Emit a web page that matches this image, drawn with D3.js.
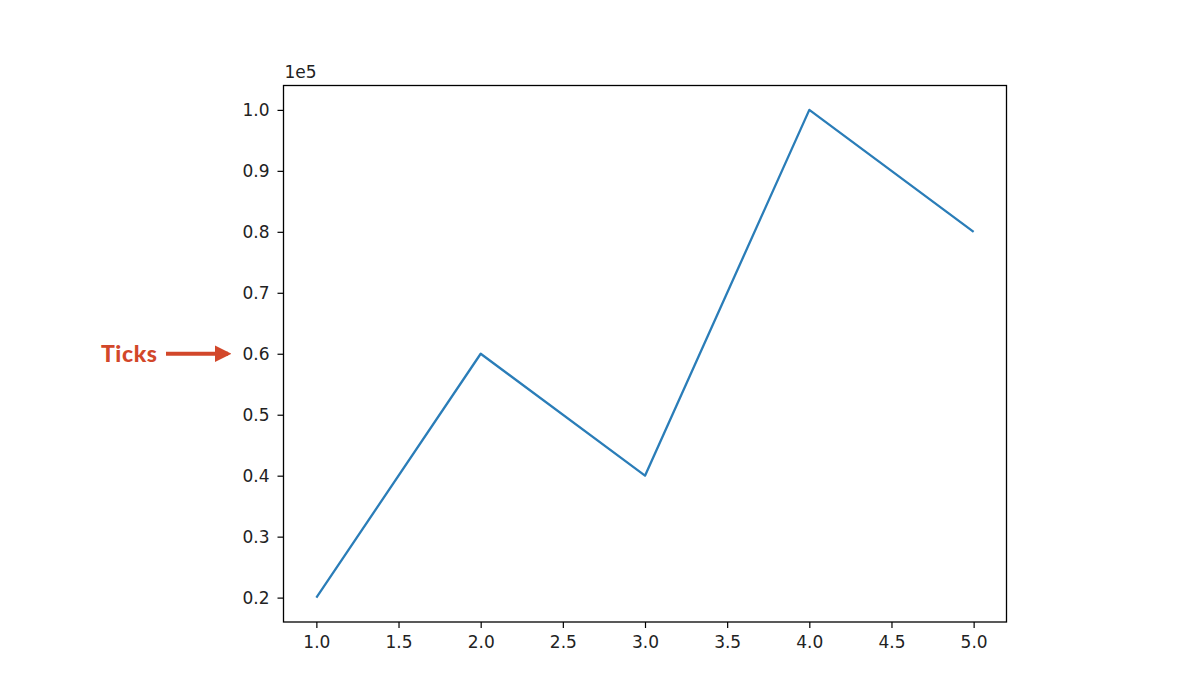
<!DOCTYPE html>
<meta charset="utf-8">
<style>
body { margin: 0; background: #fff; }
.note { font: 900 23px Lato, sans-serif; fill: #d2472a; }
</style>
<body>
<script src="https://cdn.jsdelivr.net/npm/d3@7"></script>
<script>

// data
var xVals = [1, 2, 3, 4, 5],
    yVals = [20000, 60000, 40000, 100000, 80000],
    xTicks = [1.0, 1.5, 2.0, 2.5, 3.0, 3.5, 4.0, 4.5, 5.0],
    yTicks = [0.2, 0.3, 0.4, 0.5, 0.6, 0.7, 0.8, 0.9, 1.0],
    offsetLabel = "1e5",
    noteText = "Ticks",
    noteTick = 0.6;

var W = 1200, H = 700,
    margin = {top: 85.5, right: 193.5, bottom: 78, left: 283.5},
    width = W - margin.left - margin.right,
    height = H - margin.top - margin.bottom;

var svg = d3.select("body").append("svg")
    .attr("width", W)
    .attr("height", H);

var g = svg.append("g")
    .attr("transform", "translate(" + margin.left + "," + margin.top + ")");

// matplotlib style 5% margins
var xScale = d3.scaleLinear().domain([0.8, 5.2]).range([0, width]),
    yScale = d3.scaleLinear().domain([0.16, 1.04]).range([height, 0]);

var xAxis = d3.axisBottom(xScale).tickValues(xTicks).tickFormat(d3.format(".1f")).tickSize(6).tickPadding(8);
var yAxis = d3.axisLeft(yScale).tickValues(yTicks).tickFormat(d3.format(".1f")).tickSize(6).tickPadding(8);

function styleAxis(s) {
  s.select(".domain").remove();
  s.attr("font-size", null).attr("font-family", null);
  s.selectAll("line").style("stroke", "#000").style("stroke-width", 1.2);
  s.selectAll("text")
    .style("font-family", "'DejaVu Sans', sans-serif")
    .style("font-size", "17px")
    .style("fill", "#222");
}

g.append("g")
    .attr("transform", "translate(0," + height + ")")
    .call(xAxis)
    .call(styleAxis);

g.append("g")
    .call(yAxis)
    .call(styleAxis);

// frame
g.append("rect")
    .attr("width", width)
    .attr("height", height)
    .style("fill", "none")
    .style("stroke", "#000")
    .style("stroke-width", 1.3);

// offset label
g.append("text")
    .attr("x", 1)
    .attr("y", -8)
    .style("font", "17px 'DejaVu Sans', sans-serif")
    .style("fill", "#222")
    .text(offsetLabel);

var line = d3.line()
    .x(function(d, i) { return xScale(xVals[i]); })
    .y(function(d) { return yScale(d / 1e5); });

g.append("path")
    .datum(yVals)
    .attr("d", line)
    .style("fill", "none")
    .style("stroke", "#2a7db8")
    .style("stroke-width", 2.3)
    .style("stroke-linejoin", "round");

// annotation
var ny = margin.top + yScale(noteTick);
svg.append("defs").append("marker")
    .attr("id", "arr")
    .attr("viewBox", "0 0 10 10")
    .attr("refX", 8).attr("refY", 5)
    .attr("markerWidth", 4.2).attr("markerHeight", 4.2)
    .attr("orient", "auto")
  .append("path")
    .attr("d", "M0,0 L10,5 L0,10 Z")
    .style("fill", "#d2472a");

svg.append("line")
    .attr("x1", 166).attr("x2", 228)
    .attr("y1", ny).attr("y2", ny)
    .style("stroke", "#d2472a")
    .style("stroke-width", 4)
    .attr("marker-end", "url(#arr)");

svg.append("text")
    .attr("class", "note")
    .attr("x", 101)
    .attr("y", ny + 8)
    .attr("textLength", 56)
    .text(noteText);

</script>
